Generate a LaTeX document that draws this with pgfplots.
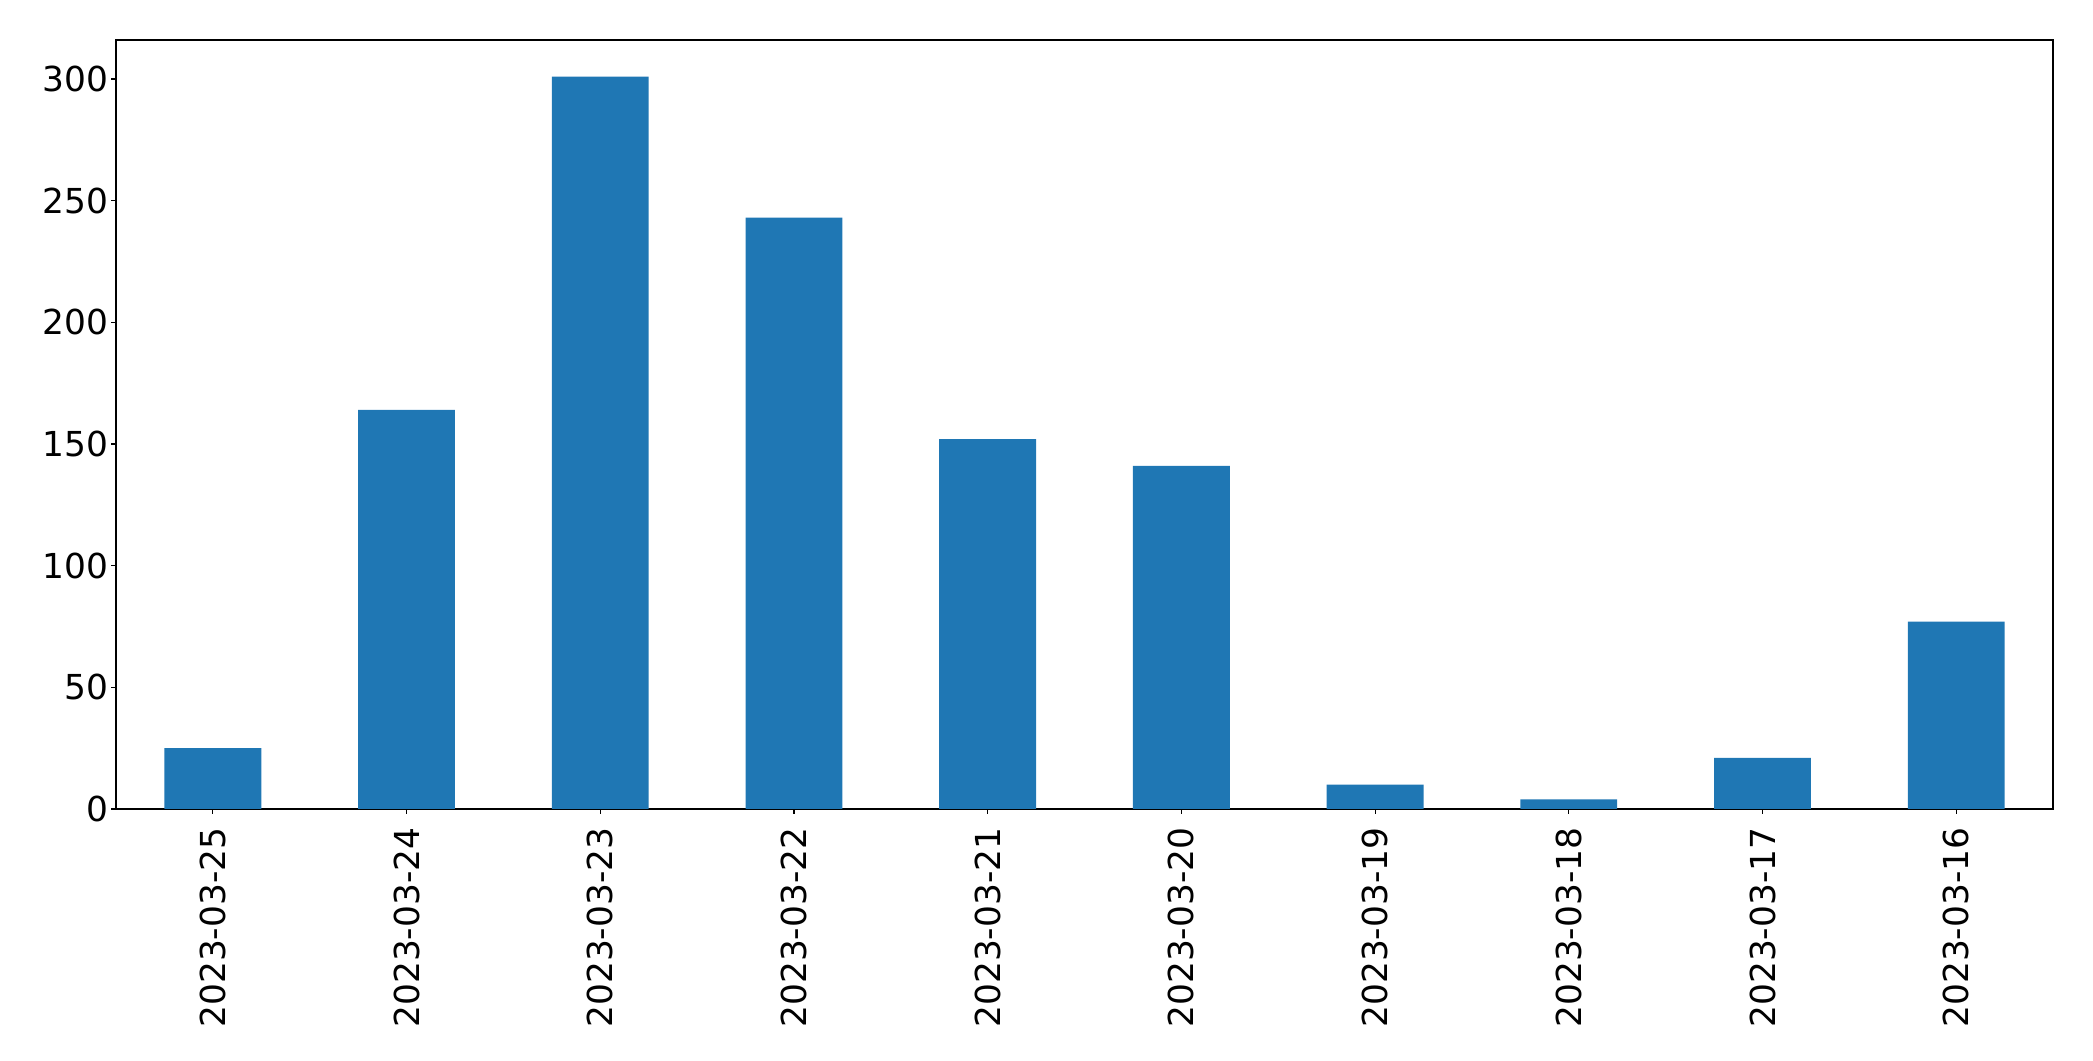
\documentclass[border=0pt]{standalone}
\usepackage{fontspec}
\setmainfont{DejaVu Sans}
\usepackage{pgfplots}
\pgfplotsset{compat=1.18}
\definecolor{mplblue}{HTML}{1F77B4}
\begin{document}
\begin{tikzpicture}
\useasboundingbox (0,0) rectangle (1046.5bp,530.5bp);
\begin{axis}[
  at={(58bp,126bp)}, anchor=south west,
  scale only axis, width=968.5bp, height=384.5bp,
  xmin=-0.5, xmax=9.5, ymin=0, ymax=316.05,
  xtick={0,...,9},
  xticklabels={2023-03-25,2023-03-24,2023-03-23,2023-03-22,2023-03-21,2023-03-20,2023-03-19,2023-03-18,2023-03-17,2023-03-16},
  ytick={0,50,100,150,200,250,300},
  tick align=outside, tick pos=left,
  major tick length=2.3bp,
  axis line style={line width=0.55bp},
  every tick/.style={line width=0.55bp, black},
  tick label style={font=\fontsize{17.2bp}{20bp}\selectfont},
  /pgf/number format/assume math mode=true,
  xticklabel style={rotate=90, anchor=east, inner sep=0pt, xshift=-6.8bp},
  yticklabel style={inner sep=0pt, xshift=-1.5bp},
  ybar, bar width=0.5,
]
\addplot[fill=mplblue, draw=none] coordinates {
 (0,25) (1,164) (2,301) (3,243) (4,152) (5,141) (6,10) (7,4) (8,21) (9,77)
};
\end{axis}
\end{tikzpicture}
\end{document}
